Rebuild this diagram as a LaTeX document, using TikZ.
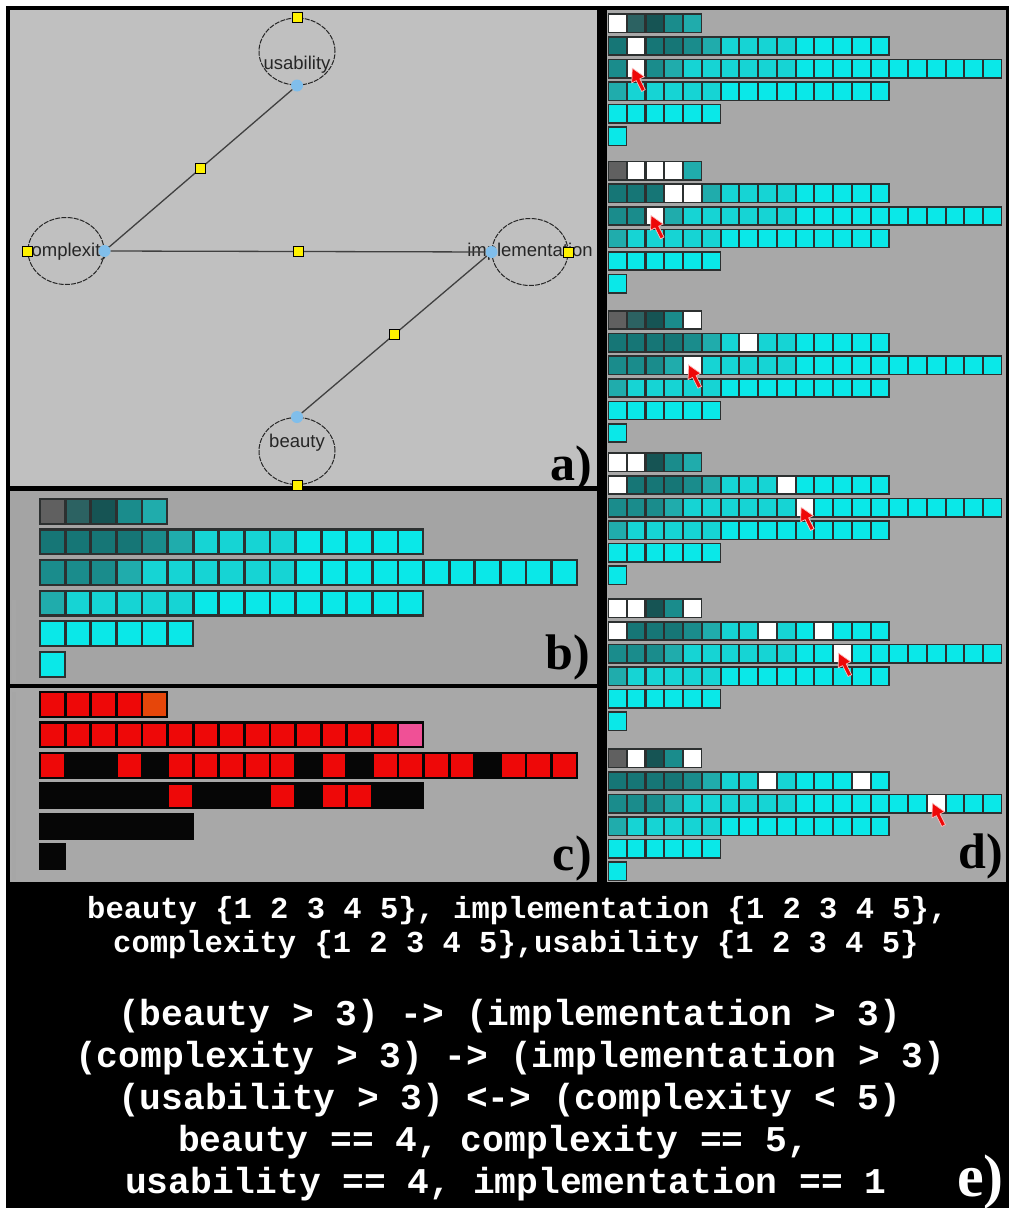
\documentclass[tikz,border=0pt]{standalone}
\usepackage{fontspec}
\setmainfont{Liberation Sans}
\newfontfamily\tagfont{Liberation Serif}
\newfontfamily\codefont{Liberation Mono}
\usetikzlibrary{shapes.geometric}
\definecolor{panelA}{RGB}{192,192,192}
\definecolor{panelB}{RGB}{164,164,164}
\definecolor{panelD}{RGB}{168,168,168}
\definecolor{strip}{RGB}{44,48,48}
\definecolor{gry}{RGB}{96,96,96}
\definecolor{tA}{RGB}{44,98,98}
\definecolor{tB}{RGB}{22,84,84}
\definecolor{tC}{RGB}{22,118,118}
\definecolor{tD}{RGB}{26,140,140}
\definecolor{tE}{RGB}{32,172,172}
\definecolor{cyL}{RGB}{22,212,212}
\definecolor{cyn}{RGB}{10,232,232}
\definecolor{rd}{RGB}{238,8,8}
\definecolor{org}{RGB}{230,70,10}
\definecolor{pnk}{RGB}{240,80,150}
\definecolor{blk}{RGB}{6,6,6}
\definecolor{dotblue}{RGB}{128,190,235}
\colorlet{bandcol}{strip}
\tikzset{ var/.style = { ellipse % variable
, draw = black!85
, dash pattern = on 5pt off 1.2pt
, line width = 1pt
, inner sep = 0pt
, minimum width = 76pt
, minimum height = 67pt
}
, port/.style = { circle % port of a variable
, fill = dotblue
, inner sep = 0pt
, minimum size = 12pt
}
, hdl/.style = { rectangle % handle
, draw = black
, fill = yellow
, line width = 0.8pt
, inner sep = 0pt
, minimum size = 10pt
}
, nm/.style = { inner sep = 0pt % variable name
, text = black!85
, font = \fontsize{18.5}{22}\selectfont
}
, link/.style = { draw = black!75 % constraint
, line width = 1.3pt
}
, tag/.style = { inner sep = 0pt % panel letter
, anchor = base east
, font = \tagfont\bfseries\fontsize{50}{50}\selectfont
}
, codeS/.style = { inner sep = 0pt % domain text
, anchor = base west
, text = white
, font = \codefont\bfseries\fontsize{30.5}{32}\selectfont
}
, codeL/.style = { inner sep = 0pt % constraint text
, anchor = base west
, text = white
, font = \codefont\bfseries\fontsize{36.25}{40}\selectfont
}
, cursor/.style = { fill = rd % mouse pointer
, draw = white!75!rd
, line width = 0.7pt
}
}
\def\tile(#1,#2)#3{% colour square
\fill[#3] (#2-1,#1-1) rectangle ++(0.89,0.74)
}
\def\band(#1)#2{% dark strip under a row
\fill[bandcol] (-0.07,#1-1.07) rectangle (#2-0.04,#1-0.19)
}
\def\grid{% unmarked colour field
\foreach[count=\n] \d in {5,15,21,15,6,1} \band(\n){\d};
\foreach[count=\n] \d in {gry,tA,tB,tD,tE} \tile(1,\n){\d};
\foreach[count=\n] \d in {tC,tC,tC,tC,tD,tE,cyL,cyL,cyL,cyL,cyn,cyn,cyn,cyn,cyn} \tile(2,\n){\d};
\foreach[count=\n] \d in {tD,tD,tD,tE,cyL,cyL,cyL,cyL,cyL,cyL,cyn,cyn,cyn,cyn,cyn,cyn,cyn,cyn,cyn,cyn,cyn} \tile(3,\n){\d};
\foreach[count=\n] \d in {tE,cyL,cyL,cyL,cyL,cyL,cyn,cyn,cyn,cyn,cyn,cyn,cyn,cyn,cyn} \tile(4,\n){\d};
\foreach \n in {1,...,6} \tile(5,\n){cyn};
\tile(6,1){cyn};
}
\def\arrw(#1,#2){% red pointer, tip at #1,#2
\filldraw[cursor, shift={(#1,#2)}] (0,0) -- (12.1,8.5) -- (7.6,10.7) -- (13,21.5) -- (9.4,23.3) -- (4,12.5) -- (-0.5,14.7) -- cycle
}

\begin{document}
\begin{tikzpicture}[x=1pt, y=-1pt]
\useasboundingbox (0,0) rectangle (1017,1215);
\fill[white] (0,0) rectangle (1017,1215);
\fill[black] (6,6) rectangle (1009,1208);
\fill[panelA] (10,10) rectangle (597,486);
\fill[panelB] (10,491) rectangle (597,684);
\fill[panelD] (10,688) rectangle (597,882);
\fill[panelD] (607,10) rectangle (1006,882);
\fill[gray!70] (12,600) rectangle (16,682);
\fill[gray!70] (12,692) rectangle (16,880);

% a) constraint graph
\node[nm] (tu) at (297,65) {usability};
\node[nm] (tc) at (66,252) {complexity};
\node[nm] (ti) at (530,252) {implementation};
\node[nm] (tb) at (297,443) {beauty};
\node[var] (usab) at (297,51.5) {};
\node[var] (cplx) at (66,251) {};
\node[var] (impl) at (530,252) {};
\node[var] (beau) at (297,451) {};
\node[port] (pu) at (usab.south) {};
\node[port] (pc) at (cplx.east) {};
\node[port] (pi) at (impl.west) {};
\node[port] (pb) at (beau.north) {};
\draw[link] (pu) -- node[hdl] (m1) {} (pc);
\draw[link] (pc) -- node[hdl] (m2) {} (pi);
\draw[link] (pi) -- node[hdl] (m3) {} (pb);
\node[hdl] (hu) at (usab.north) {};
\node[hdl] (hc) at (cplx.west) {};
\node[hdl] (hi) at (impl.east) {};
\node[hdl] (hb) at (beau.south) {};
\node[tag] (la) at (592,480) {a)};

% b) domains
\begin{scope}[shift={(41,500)}, xscale=25.6, yscale=30.6]
\grid
\end{scope}
\node[tag] (lb) at (590,669) {b)};

% c) consistent values
\begin{scope}[shift={(41,693)}, xscale=25.6, yscale=30.5]
\colorlet{bandcol}{blk}
\foreach[count=\n] \d in {5,15,21,15,6,1} \band(\n){\d};
\foreach[count=\n] \d in {rd,rd,rd,rd,org} \tile(1,\n){\d};
\foreach[count=\n] \d in {rd,rd,rd,rd,rd,rd,rd,rd,rd,rd,rd,rd,rd,rd,pnk} \tile(2,\n){\d};
\foreach[count=\n] \d in {rd,blk,blk,rd,blk,rd,rd,rd,rd,rd,blk,rd,blk,rd,rd,rd,rd,blk,rd,rd,rd} \tile(3,\n){\d};
\foreach[count=\n] \d in {blk,blk,blk,blk,blk,rd,blk,blk,blk,rd,blk,rd,rd,blk,blk} \tile(4,\n){\d};
\foreach \n in {1,...,6} \tile(5,\n){blk};
\tile(6,1){blk};
\end{scope}
\node[tag] (lc) at (592,870) {c)};

% d) search steps
\foreach \t/\w/\k in {15/{1/1,2/2,3/2}/2, 162.3/{1/2,1/3,1/4,2/4,2/5,3/3}/3, 311.7/{1/5,2/8,3/5}/5, 454/{1/1,1/2,2/1,2/10,3/11}/11, 600/{1/1,1/2,1/5,2/1,2/9,2/12,3/13}/13, 750/{1/2,1/5,2/9,2/14,3/18}/18}{
\begin{scope}[shift={(609,\t)}, xscale=18.76, yscale=22.6]
\grid
\foreach \r/\c in \w \tile(\r,\c){white};
\end{scope}
\pgfmathsetmacro\cx{613.5+(\k-1)*18.76}
\pgfmathsetmacro\cy{\t+53.2}
\arrw(\cx,\cy);
}
\node[tag] (ld) at (1003,868) {d)};

% e) problem
\node[codeS] (s1) at (87,918) {beauty \{1 2 3 4 5\}, implementation \{1 2 3 4 5\},};
\node[codeS] (s2) at (113,952) {complexity \{1 2 3 4 5\},usability \{1 2 3 4 5\}};
\node[codeL] (r1) at (118,1025) {(beauty > 3) -> (implementation > 3)};
\node[codeL] (r2) at (75,1067) {(complexity > 3) -> (implementation > 3)};
\node[codeL] (r3) at (118,1109) {(usability > 3) <-> (complexity < 5)};
\node[codeL] (r4) at (178,1151) {beauty == 4, complexity == 5,};
\node[codeL] (r5) at (125,1193) {usability == 4, implementation == 1};
\node[tag, text=white, font=\tagfont\bfseries\fontsize{60}{60}\selectfont] (le) at (1004,1196) {e)};
\end{tikzpicture}
\end{document}
